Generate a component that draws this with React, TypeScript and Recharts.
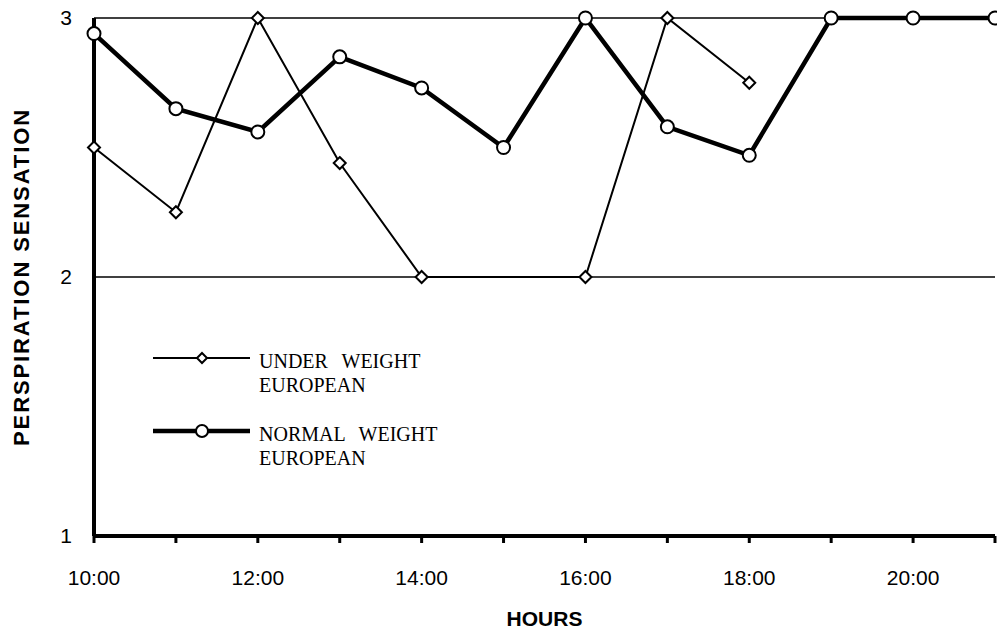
import { CartesianGrid, Legend, Line, LineChart, XAxis, YAxis } from "recharts"

const hours = [10, 11, 12, 13, 14, 15, 16, 17, 18, 19, 20, 21]
const underWeight = [2.5, 2.25, 3, 2.44, 2, null, 2, 3, 2.75, null, null, null]
const normalWeight = [2.94, 2.65, 2.56, 2.85, 2.73, 2.5, 3, 2.58, 2.47, 3, 3, 3]
const yTicks = [1, 2, 3]
const underLabel = ["UNDER WEIGHT", "EUROPEAN"]
const normalLabel = ["NORMAL WEIGHT", "EUROPEAN"]

const data = hours.map((h, i) => ({ hour: h, under: underWeight[i], normal: normalWeight[i] }))

const sans = "'Liberation Sans', Arial, sans-serif"
const serif = "'Liberation Serif', 'Times New Roman', serif"

const Diamond = (props: any) => {
  const { cx, cy, index } = props
  if (cx == null || cy == null) return <g key={`d-${index}`} />
  return (
    <path
      key={`d-${index}`}
      d={`M${cx},${cy - 6}L${cx + 6},${cy}L${cx},${cy + 6}L${cx - 6},${cy}Z`}
      fill="#fff"
      stroke="#000"
      strokeWidth={2}
    />
  )
}

const Circle = (props: any) => {
  const { cx, cy, index } = props
  if (cx == null || cy == null) return <g key={`c-${index}`} />
  return <circle key={`c-${index}`} cx={cx} cy={cy} r={6.5} fill="#fff" stroke="#000" strokeWidth={2} />
}

const legendItems = [
  { key: "under", lines: underLabel, width: 2, marker: "diamond" },
  { key: "normal", lines: normalLabel, width: 4.5, marker: "circle" },
]

const LegendBox = () => (
  <div style={{ fontFamily: serif, fontSize: 20, color: "#000" }}>
    {legendItems.map((it) => (
      <div key={it.key} style={{ display: "flex", alignItems: "flex-start", marginBottom: 25 }}>
        <svg width={97} height={24} style={{ display: "block", marginTop: -3 }}>
          <line x1={0} y1={12} x2={97} y2={12} stroke="#000" strokeWidth={it.width} />
          {it.marker === "diamond" ? (
            <path d="M49,7L54,12L49,17L44,12Z" fill="#fff" stroke="#000" strokeWidth={2} />
          ) : (
            <circle cx={49} cy={12} r={6} fill="#fff" stroke="#000" strokeWidth={2} />
          )}
        </svg>
        <div style={{ marginLeft: 9, lineHeight: "24px", whiteSpace: "nowrap", wordSpacing: 9 }}>
          {it.lines.map((l) => (
            <div key={l}>{l}</div>
          ))}
        </div>
      </div>
    ))}
  </div>
)

export default function App() {
  return (
    <div style={{ position: "absolute", left: 0, top: 0, background: "#fff" }}>
      <LineChart width={997} height={631} data={data} margin={{ top: 18, right: 2, left: 0, bottom: 0 }}>
        <CartesianGrid vertical={false} stroke="#000" strokeWidth={1.5} />
        <XAxis
          dataKey="hour"
          type="number"
          domain={[10, 21]}
          ticks={hours}
          interval={0}
          height={95}
          tickFormatter={(v) => (v % 2 === 0 ? `${v}:00` : "")}
          axisLine={{ stroke: "#000", strokeWidth: 4 }}
          tickLine={{ stroke: "#000", strokeWidth: 3 }}
          tickSize={7}
          tickMargin={27}
          tick={{ fill: "#000", fontSize: 21, fontFamily: sans }}
          label={{
            value: "HOURS",
            position: "insideBottom",
            offset: 5,
            style: { fill: "#000", fontSize: 21, fontWeight: "bold", fontFamily: sans },
          }}
        />
        <YAxis
          type="number"
          domain={[1, 3]}
          ticks={yTicks}
          width={94}
          axisLine={{ stroke: "#000", strokeWidth: 4 }}
          tickLine={false}
          tickSize={0}
          tickMargin={22}
          tick={{ fill: "#000", fontSize: 21, fontFamily: sans }}
          label={{
            value: "PERSPIRATION SENSATION",
            angle: -90,
            position: "insideLeft",
            offset: 21,
            style: { textAnchor: "middle", fill: "#000", fontSize: 22, fontWeight: "bold", letterSpacing: 1.9, fontFamily: sans },
          }}
        />
        <Legend
          layout="vertical"
          align="center"
          verticalAlign="middle"
          content={<LegendBox />}
          wrapperStyle={{ left: 153, top: 349, width: "auto" }}
        />
        <Line
          dataKey="normal"
          name="NORMAL WEIGHT EUROPEAN"
          stroke="#000"
          strokeWidth={4.5}
          dot={<Circle />}
          activeDot={false}
          isAnimationActive={false}
        />
        <Line
          dataKey="under"
          name="UNDER WEIGHT EUROPEAN"
          stroke="#000"
          strokeWidth={2}
          connectNulls
          dot={<Diamond />}
          activeDot={false}
          isAnimationActive={false}
        />
      </LineChart>
    </div>
  )
}
